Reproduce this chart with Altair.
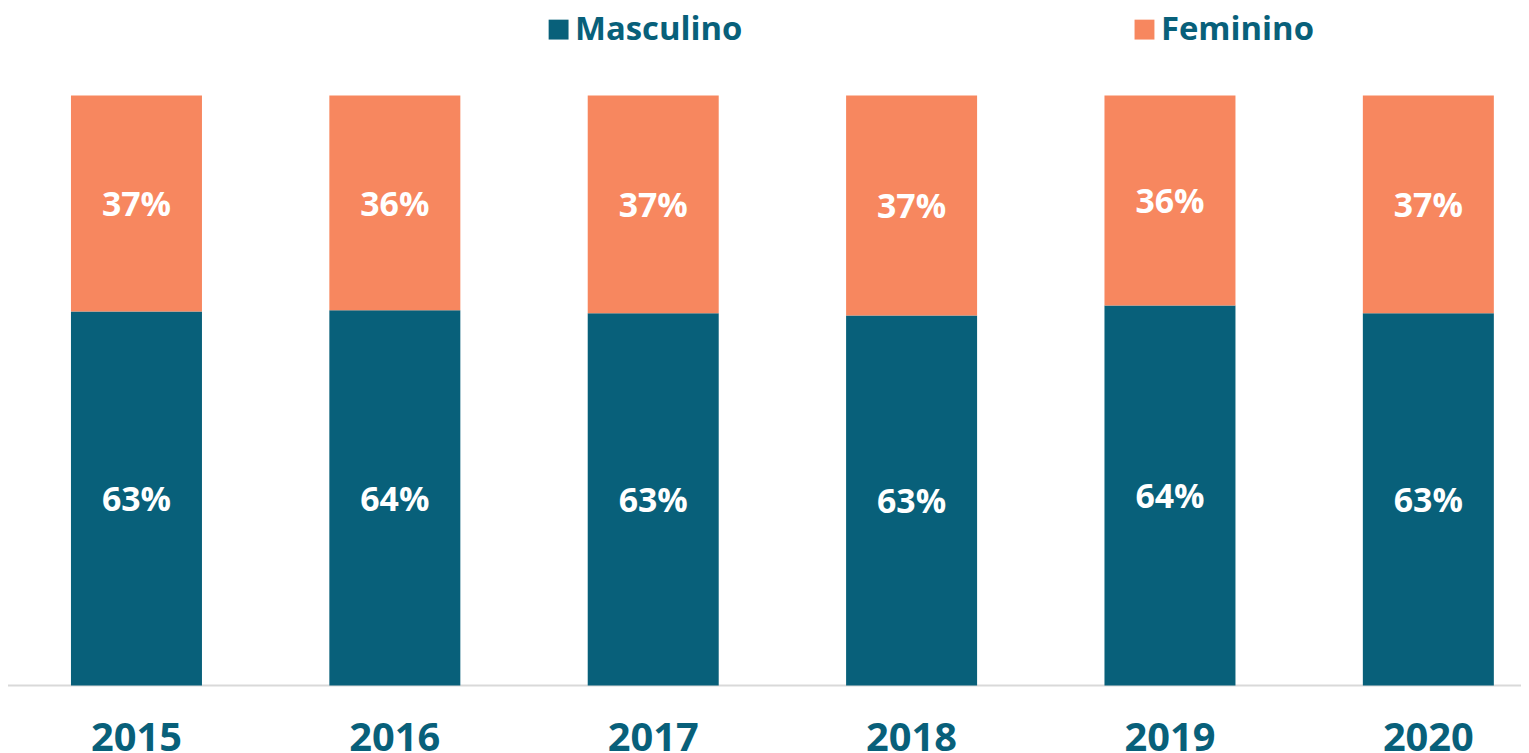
import altair as alt
import pandas as pd

years = ["2015", "2016", "2017", "2018", "2019", "2020"]
masculino = [63.4, 63.6, 63.1, 62.7, 64.4, 63.1]
feminino = [36.6, 36.4, 36.9, 37.3, 35.6, 36.9]
series = ["Masculino", "Feminino"]
colors = ["#08607A", "#F7875F"]

rows = []
for i, y in enumerate(years):
    rows.append({"year": y, "sexo": "Masculino", "value": masculino[i], "ord": 0})
    rows.append({"year": y, "sexo": "Feminino", "value": feminino[i], "ord": 1})
df = pd.DataFrame(rows)

FONT = "Open Sans"
TEAL = "#08607A"

base = alt.Chart(df).transform_stack(
    stack="value", groupby=["year"], as_=["y0", "y1"],
    sort=[alt.SortField("ord", order="ascending")], offset="normalize"
).transform_calculate(
    mid="(datum.y0 + datum.y1) / 2",
    label="format(datum.value, '.0f') + '%'"
)

xscale = alt.Scale(range=[0, 1557], paddingInner=0.493, paddingOuter=0.2437)
yscale = alt.Scale(domain=[0, 1], nice=False)

xenc = alt.X("year:N", sort=years, title=None, scale=xscale,
             axis=alt.Axis(labelFont=FONT, labelFontSize=40, labelFontWeight="bold",
                           labelColor=TEAL, labelAngle=0, ticks=False, tickSize=0,
                           labelPadding=65, labelBaseline="alphabetic",
                           domain=False, grid=False))

baseline = alt.Chart(pd.DataFrame({"v": [0]})).mark_rule(
    color="#D9D9D9", strokeWidth=2
).encode(
    y=alt.Y("v:Q", scale=yscale, axis=None),
    x=alt.value(-1),
    x2=alt.value(1525),
)

bars = base.mark_bar().encode(
    x=xenc,
    y=alt.Y("y0:Q", scale=yscale, axis=None),
    y2="y1:Q",
    color=alt.Color("sexo:N", scale=alt.Scale(domain=series, range=colors),
                    sort=series,
                    legend=alt.Legend(title=None, orient="none", direction="horizontal",
                                      columns=2, legendX=537, legendY=-83,
                                      symbolType="square", symbolSize=400,
                                      symbolStrokeWidth=0, labelOffset=0,
                                      columnPadding=387,
                                      labelFont=FONT, labelFontSize=33,
                                      labelFontWeight="bold", labelColor=TEAL,
                                      labelLimit=400)),
)

texts = base.mark_text(font=FONT, fontSize=34, fontWeight="bold", color="white",
                       baseline="middle", dy=3).encode(
    x=alt.X("year:N", sort=years),
    y=alt.Y("mid:Q"),
    text="label:N",
)

chart = alt.layer(baseline, bars, texts).properties(
    width=1521, height=593,
    padding={"left": 0, "top": 86, "right": 0, "bottom": 66},
    autosize=alt.AutoSizeParams(type="none"),
    background="white",
).configure_view(stroke=None)

chart.save("out.html", embed_options={"renderer": "svg", "actions": False})
